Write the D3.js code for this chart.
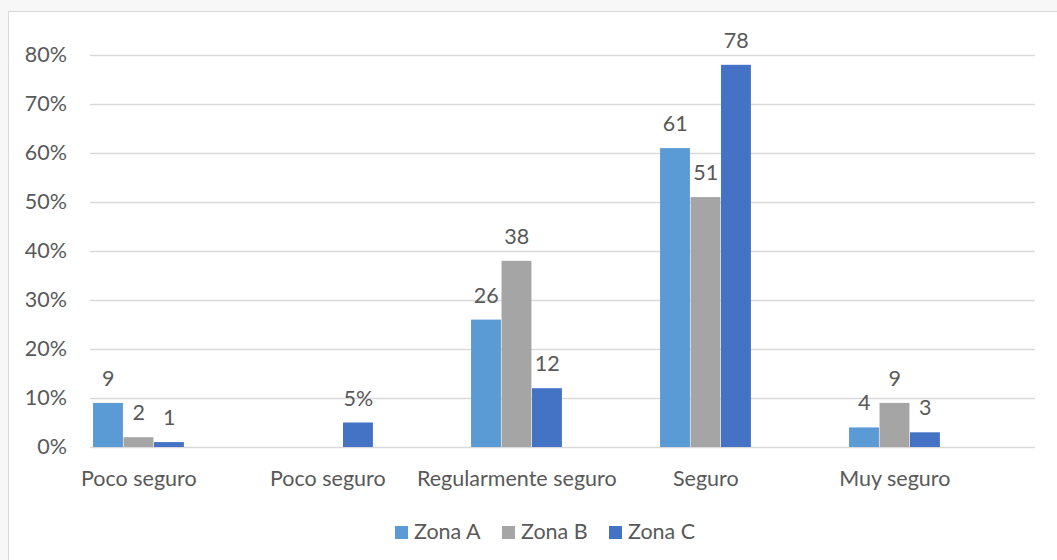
<!DOCTYPE html>
<html>
<head>
<meta charset="utf-8">
<script src="https://cdn.jsdelivr.net/npm/d3@7"></script>
<style>
  html, body { margin: 0; padding: 0; background: #f7f7f7; }
  svg { display: block; }
  text { font-family: Lato, "Open Sans", sans-serif; fill: #595959; }
</style>
</head>
<body>
<svg id="chart" width="1057" height="560"></svg>
<script>
const categories = ["Poco seguro", "Poco seguro", "Regularmente seguro", "Seguro", "Muy seguro"];
const seriesNames = ["Zona A", "Zona B", "Zona C"];
const zonaA = [9, null, 26, 61, 4];
const zonaB = [2, null, 38, 51, 9];
const zonaC = [1, 5, 12, 78, 3];
const labelSuffix = ["", "%", "", "", ""];
const yTicks = [0, 10, 20, 30, 40, 50, 60, 70, 80];
const colors = ["#5B9BD5", "#A5A5A5", "#4472C4"];

const seriesValues = [zonaA, zonaB, zonaC];
const W = 1057, H = 560;
const FS = 21.5;
const plot = { left: 90, right: 1035, top: 55, bottom: 447 };
const svg = d3.select("#chart");

svg.append("rect").attr("x", 8.5).attr("y", 11.5).attr("width", W + 10).attr("height", H + 10)
  .attr("fill", "#ffffff").attr("stroke", "#d9d9d9").attr("stroke-width", 1);

const x = d3.scaleBand().domain(d3.range(categories.length)).range([plot.left, plot.right]);
const inner = d3.scaleBand().domain(d3.range(6)).range([0, x.bandwidth()]).paddingOuter(0.1).paddingInner(0);
const y = d3.scaleLinear().domain([0, 80]).range([plot.bottom, plot.top]);

// gridlines
svg.append("g").selectAll("line").data(yTicks).join("line")
  .attr("x1", plot.left).attr("x2", plot.right)
  .attr("y1", d => Math.round(y(d)) + 0.5).attr("y2", d => Math.round(y(d)) + 0.5)
  .attr("stroke", "#d9d9d9").attr("stroke-width", 1.5);

// y labels
const yAxis = d3.axisLeft(y).tickValues(yTicks).tickFormat(d => d + "%").tickSize(0).tickPadding(0);
const yg = svg.append("g").attr("transform", `translate(67,0)`).call(yAxis);
yg.select(".domain").remove();
yg.selectAll("text").attr("font-size", FS).attr("fill", "#595959").attr("font-family", "Lato, sans-serif");

// bars
const groupCenter = i => x(i) + inner(0) + inner.bandwidth() * 1.5;
seriesValues.forEach((vals, s) => {
  const g = svg.append("g");
  const data = vals.map((v, i) => ({ v, i })).filter(d => d.v !== null);
  g.selectAll("rect").data(data).join("rect")
    .attr("x", d => x(d.i) + inner(s))
    .attr("width", inner.bandwidth() - 0.6)
    .attr("y", d => y(d.v))
    .attr("height", d => y(0) - y(d.v))
    .attr("fill", colors[s]);
  g.selectAll("text").data(data).join("text")
    .attr("x", d => x(d.i) + inner(s) + inner.bandwidth() / 2)
    .attr("y", d => y(d.v) - 17)
    .attr("text-anchor", "middle")
    .attr("font-size", FS)
    .attr("fill", "#404040")
    .text(d => d.v + labelSuffix[d.i]);
});

// x labels
const xAxis = d3.axisBottom(x).tickFormat(i => categories[i]).tickSize(0).tickPadding(0);
const xg = svg.append("g").attr("transform", `translate(0,${plot.bottom})`).call(xAxis);
xg.select(".domain").remove();
xg.selectAll(".tick").attr("transform", i => `translate(${groupCenter(i)},0)`);
xg.selectAll("text").attr("y", 39).attr("dy", 0).attr("font-size", FS).attr("fill", "#595959").attr("font-family", "Lato, sans-serif");

// legend
const legendX = [395, 502, 609];
const lg = svg.append("g");
seriesNames.forEach((n, s) => {
  lg.append("rect").attr("x", legendX[s]).attr("y", 526).attr("width", 13).attr("height", 13).attr("fill", colors[s]);
  lg.append("text").attr("x", legendX[s] + 19).attr("y", 539).attr("font-size", FS).text(n);
});
</script>
</body>
</html>
